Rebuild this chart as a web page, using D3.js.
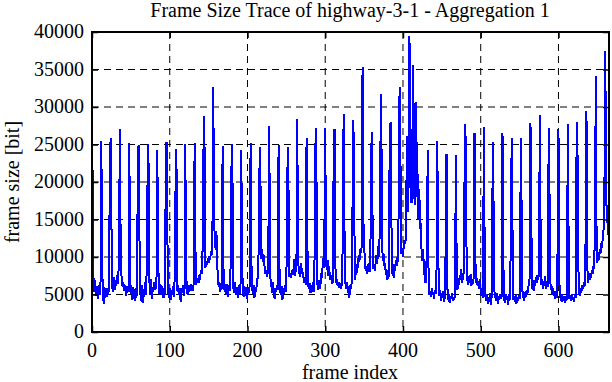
<!DOCTYPE html>
<html>
<head>
<meta charset="utf-8">
<script src="https://cdn.jsdelivr.net/npm/d3@7"></script>
<style>
    body { margin: 0; background: #ffffff; }
    text { font-family: 'Liberation Serif', 'Times New Roman', serif; fill: #000000; }
</style>
</head>
<body>
<svg id="board" width="612" height="382"></svg>
<script>
// Chart labels
let chartTitle = 'Frame Size Trace of highway-3-1 - Aggregation 1'
let xTitle = 'frame index'
let yTitle = 'frame size [bit]'

// Tick values of the two axes
let xTicks = [0, 100, 200, 300, 400, 500, 600]
let yTicks = [0, 5000, 10000, 15000, 20000, 25000, 30000, 35000, 40000]

// Frame sizes in bit, one row per group of 12 frames
let frameSizes = [
    22500, 21100, 6400, 5300, 6900, 4800, 6100, 5200, 4400, 6300, 5000, 6800,
    25500, 9000, 5200, 3800, 6000, 4500, 5600, 4700, 5900, 5000, 6500, 23400,
    25800, 14600, 6000, 5400, 7300, 5600, 6800, 6100, 7600, 6400, 7200, 15900,
    27000, 7900, 7400, 6100, 6700, 5500, 5900, 6300, 4800, 5700, 6100, 5300,
    25200, 7500, 5100, 5700, 4300, 6000, 5300, 4100, 5800, 4600, 5500, 24000,
    24900, 12900, 5400, 4200, 6300, 3900, 5700, 4700, 6600, 5000, 6200, 15900,
    25100, 21400, 6100, 5000, 7000, 4400, 6000, 5400, 6700, 5600, 5900, 7300,
    24200, 10500, 5800, 5000, 6400, 4900, 6100, 5300, 4500, 5800, 5000, 25100,
    25350, 12500, 5200, 4600, 5900, 4300, 5500, 5000, 6100, 4700, 5400, 14600,
    24460, 20550, 5300, 6200, 4900, 5600, 4000, 5900, 5200, 6300, 4800, 5700,
    25130, 8500, 5600, 5000, 6200, 5300, 5800, 6400, 5500, 6100, 5900, 6600,
    25260, 11450, 6300, 6900, 7200, 6600, 7600, 7000, 8200, 7700, 8800, 21000,
    28860, 23100, 8600, 9400, 8900, 9800, 9200, 10100, 9600, 10800, 10300, 14560,
    32680, 14500, 12800, 11000, 13500, 9200, 7000, 6000, 6600, 5400, 6200, 5800,
    24860, 9000, 5600, 6100, 5000, 6400, 5300, 4700, 6200, 5500, 5900, 19670,
    25090, 18100, 5800, 5200, 6600, 4900, 6000, 5400, 4500, 6300, 5100, 5700,
    24200, 10000, 5400, 4700, 6100, 5200, 5800, 4400, 6000, 5000, 5600, 6200,
    25220, 9500, 5700, 5100, 6300, 4600, 5900, 5300, 6500, 7200, 8200, 19450,
    24690, 17700, 9800, 11000, 9300, 10200, 8600, 7800, 8200, 7400, 7900, 13450,
    27530, 8300, 6400, 6000, 5200, 6600, 5100, 4400, 5900, 5300, 6200, 5600,
    24900, 9000, 5500, 4900, 6100, 4300, 5800, 5100, 6300, 5400, 5900, 19560,
    24690, 17300, 7400, 7900, 7200, 8300, 7600, 8000, 9700, 7500, 8100, 9000,
    28420, 10500, 7800, 8200, 7400, 9200, 7700, 8000, 7300, 6600, 7000, 6300,
    25930, 12000, 6200, 5700, 6500, 5200, 6000, 5500, 6600, 5300, 5900, 23130,
    27220, 18100, 6300, 5600, 6900, 5800, 6400, 7800, 7200, 9900, 8600, 14100,
    27220, 9900, 8300, 9600, 7500, 8800, 7200, 6900, 7600, 6400, 6800, 27000,
    27000, 9000, 6500, 7000, 6100, 6700, 5900, 6300, 5700, 6600, 6200, 24800,
    29130, 9500, 6400, 5800, 6600, 5200, 6100, 4600, 6300, 5700, 6500, 15450,
    28240, 24000, 7000, 8300, 7600, 9000, 8500, 10200, 9400, 11000, 10500, 11500,
    35340, 15200, 12000, 9200, 8200, 8800, 7800, 8600, 9200, 8000, 8700, 23500,
    26680, 13000, 8400, 9000, 8100, 9600, 10300, 9100, 11500, 10000, 12800, 24800,
    31790, 12600, 9500, 10400, 8800, 9200, 7600, 8300, 7000, 7800, 7300, 27750,
    27800, 16000, 7800, 8500, 7200, 9000, 8200, 9600, 8800, 10000, 9400, 30100,
    32680, 20000, 10400, 11200, 10000, 11500, 12300, 11800, 13000, 26100, 22000, 16000,
    39430, 37200, 20000, 17200, 24000, 35650, 22000, 17000, 30460, 30500, 18000, 21000,
    15000, 19000, 13700, 14500, 10500, 9500, 11000, 8000, 7500, 6500, 7000, 16000,
    24240, 5600, 5000, 5400, 4700, 5800, 4900, 5300, 4400, 5600, 5100, 5500,
    25530, 16300, 5300, 4800, 5600, 4200, 5100, 4500, 5400, 4000, 4900, 12000,
    23750, 6200, 4300, 5000, 3900, 4800, 4400, 5200, 4100, 4700, 4300, 5100,
    23660, 10000, 5600, 6900, 6300, 7600, 7000, 8400, 6600, 7200, 7800, 18560,
    27750, 23900, 6800, 7400, 6300, 7100, 6500, 7700, 6200, 6900, 6400, 7300,
    26550, 10100, 6600, 7200, 6100, 6800, 5800, 7000, 5500, 4800, 5200, 4500,
    27350, 12300, 4800, 4200, 5100, 3800, 4600, 4000, 5200, 3600, 4700, 17900,
    25350, 8000, 4500, 4900, 4100, 5200, 3700, 4800, 4300, 5000, 4400, 4700,
    26550, 10000, 4600, 3900, 5000, 4400, 4800, 3600, 5100, 4200, 4900, 19000,
    25890, 12000, 4300, 4800, 4000, 5100, 3800, 4600, 4200, 4900, 4400, 17000,
    25890, 8000, 4500, 4900, 4200, 5300, 4700, 5600, 5000, 5800, 6400, 7200,
    27800, 16000, 5800, 6400, 5500, 6900, 6200, 7300, 6600, 7600, 7000, 8000,
    28990, 13700, 6300, 7100, 5800, 6800, 6200, 7400, 5700, 6500, 6000, 21200,
    27220, 9000, 5600, 6200, 5000, 5900, 4800, 5500, 4400, 5200, 4600, 12000,
    27000, 7200, 4500, 4900, 4000, 5000, 4300, 4700, 3900, 4800, 4200, 4600,
    27750, 13000, 4400, 4800, 4100, 5100, 4300, 4700, 4000, 5000, 4500, 22000,
    28060, 19400, 5000, 5600, 4800, 5900, 5500, 6300, 5800, 6700, 6200, 13200,
    29530, 9000, 6600, 7400, 6900, 7800, 7200, 8300, 7700, 8800, 8400, 15000,
    34190, 13000, 9200, 10200, 9600, 11000, 10400, 11800, 11200, 12600, 13700, 15400,
    37430, 27000, 14500, 15500, 13500, 12000
]

let board = d3.select('#board')

// Plot area borders in pixels
let plotLeft = 92
let plotRight = 609
let plotTop = 32
let plotBottom = 332

let xScale = d3.scaleLinear().domain([0, frameSizes.length - 1]).range([plotLeft, plotRight])
let yScale = d3.scaleLinear().domain([0, 40000]).range([plotBottom, plotTop])

// Dashed grid, only on the inner ticks
board.append('g')
    .selectAll('line')
    .data(xTicks.filter((t) => t > 0))
    .enter()
    .append('line')
    .attr('x1', (t) => xScale(t))
    .attr('x2', (t) => xScale(t))
    .attr('y1', plotTop)
    .attr('y2', plotBottom)
    .attr('stroke', '#000')
    .attr('stroke-width', 1)
    .attr('stroke-dasharray', '7,5')

board.append('g')
    .selectAll('line')
    .data(yTicks.filter((t) => t > 0 && t < 40000))
    .enter()
    .append('line')
    .attr('x1', plotLeft)
    .attr('x2', plotRight)
    .attr('y1', (t) => yScale(t))
    .attr('y2', (t) => yScale(t))
    .attr('stroke', '#000')
    .attr('stroke-width', 1)
    .attr('stroke-dasharray', '7,5')

// The trace itself, drawn without antialiasing like the original bitmap
let traceLine = d3.line()
    .x((d, i) => xScale(i))
    .y((d) => yScale(d))

board.append('path')
    .datum(frameSizes)
    .attr('d', traceLine)
    .attr('fill', 'none')
    .attr('stroke', '#0000ff')
    .attr('stroke-width', 2)
    .attr('shape-rendering', 'crispEdges')

// Axes with inward ticks, mirrored on the opposite side
let tickLen = 6
board.append('g')
    .attr('transform', 'translate(0,' + plotBottom + ')')
    .call(d3.axisTop(xScale).tickValues(xTicks).tickSize(tickLen).tickFormat(''))
board.append('g')
    .attr('transform', 'translate(0,' + plotTop + ')')
    .call(d3.axisBottom(xScale).tickValues(xTicks).tickSize(tickLen).tickFormat(''))
board.append('g')
    .attr('transform', 'translate(' + plotLeft + ',0)')
    .call(d3.axisRight(yScale).tickValues(yTicks).tickSize(tickLen).tickFormat(''))
board.append('g')
    .attr('transform', 'translate(' + plotRight + ',0)')
    .call(d3.axisLeft(yScale).tickValues(yTicks).tickSize(tickLen).tickFormat(''))
board.selectAll('.domain').remove()
board.selectAll('.tick line').attr('stroke', '#000').attr('stroke-width', 1.5)

// Frame around the plot
board.append('rect')
    .attr('x', plotLeft)
    .attr('y', plotTop)
    .attr('width', plotRight - plotLeft)
    .attr('height', plotBottom - plotTop)
    .attr('fill', 'none')
    .attr('stroke', '#000')
    .attr('stroke-width', 2)

// Tick labels
board.append('g')
    .selectAll('text')
    .data(xTicks)
    .enter()
    .append('text')
    .attr('x', (t) => xScale(t))
    .attr('y', 357)
    .attr('text-anchor', 'middle')
    .attr('font-size', 20)
    .text((t) => t)

board.append('g')
    .selectAll('text')
    .data(yTicks)
    .enter()
    .append('text')
    .attr('x', 84)
    .attr('y', (t) => yScale(t) + 6)
    .attr('text-anchor', 'end')
    .attr('font-size', 20)
    .text((t) => t)

// Titles
board.append('text')
    .attr('x', 350)
    .attr('y', 17)
    .attr('text-anchor', 'middle')
    .attr('font-size', 20)
    .text(chartTitle)

board.append('text')
    .attr('x', 350)
    .attr('y', 379)
    .attr('text-anchor', 'middle')
    .attr('font-size', 20)
    .text(xTitle)

board.append('text')
    .attr('transform', 'translate(19,182) rotate(-90)')
    .attr('text-anchor', 'middle')
    .attr('font-size', 20)
    .text(yTitle)
</script>
</body>
</html>
